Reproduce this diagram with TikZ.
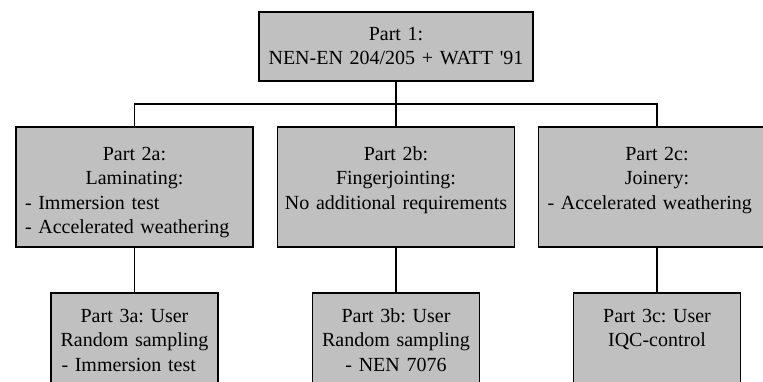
\documentclass[tikz,border=0pt]{standalone}
\usepackage{fontspec}
\setmainfont{Liberation Serif}
\frenchspacing
\definecolor{boxgray}{RGB}{192,192,192}
\newcommand{\lft}[2]{\makebox[\linewidth][l]{\hspace*{#1}#2}}
\begin{document}
\frenchspacing
\begin{tikzpicture}[x=1pt,y=-1pt,
  box/.style={draw=black, line width=1.3pt, fill=boxgray, rectangle, inner sep=0pt},
  lvltop/.style={box, minimum width=274pt, minimum height=69pt},
  lvltwo/.style={box, minimum width=237pt, minimum height=120pt},
  lvlthree/.style={box, minimum width=167pt, minimum height=130pt},
  txt/.style={inner sep=0pt, align=center, anchor=north, font=\fontsize{20}{24.5}\selectfont\frenchspacing},
  txtone/.style={txt, text width=265pt},
  txttwo/.style={txt, text width=225pt},
  txtthree/.style={txt, text width=155pt},
  conn/.style={line width=1.3pt}]
\clip (0,0) rectangle (763,382);
% boxes
\node[lvltop] (top) at (396,46.5) {};
\node[lvltwo] (b2a) at (134.5,187) {};
\node[lvltwo] (b2b) at (396,187) {};
\node[lvltwo] (b2c) at (657,187) {};
\node[lvlthree] (b3a) at (134.5,358) {};
\node[lvlthree] (b3b) at (396,358) {};
\node[lvlthree] (b3c) at (657,358) {};
% connectors
\coordinate (j) at (396,104);
\draw[conn] (top.south) -- (j);
\draw[conn] (b2a.north) |- (j);
\draw[conn] (b2c.north) |- (j);
\draw[conn] (b2b.north) -- (j);
\draw[conn] (b2a.south) -- (b3a.north);
\draw[conn] (b2b.south) -- (b3b.north);
\draw[conn] (b2c.south) -- (b3c.north);
% texts
\node[txtone] (t1) at (396,22.85) {\strut Part 1:\\ NEN-EN 204/205 + WATT \textquotesingle 91};
\node[txttwo] (t2a) at (134.5,142.85) {\strut Part 2a:\\ Laminating:\\ \lft{3pt}{- Immersion test}\\ \lft{3pt}{- Accelerated weathering}};
\node[txttwo] (t2b) at (396,142.85) {\strut Part 2b:\\ Fingerjointing:\\ No additional requirements};
\node[txttwo] (t2c) at (657,142.85) {\strut Part 2c:\\ Joinery:\\ \lft{3pt}{- Accelerated weathering}};
\node[txtthree] (t3a) at (134.5,304.85) {\strut Part 3a: User\\ Random sampling\\ \lft{4.5pt}{- Immersion test}};
\node[txtthree] (t3b) at (396,304.85) {\strut Part 3b: User\\ Random sampling\\ - NEN 7076};
\node[txtthree] (t3c) at (657,304.85) {\strut Part 3c: User\\ IQC-control};
\end{tikzpicture}
\end{document}
